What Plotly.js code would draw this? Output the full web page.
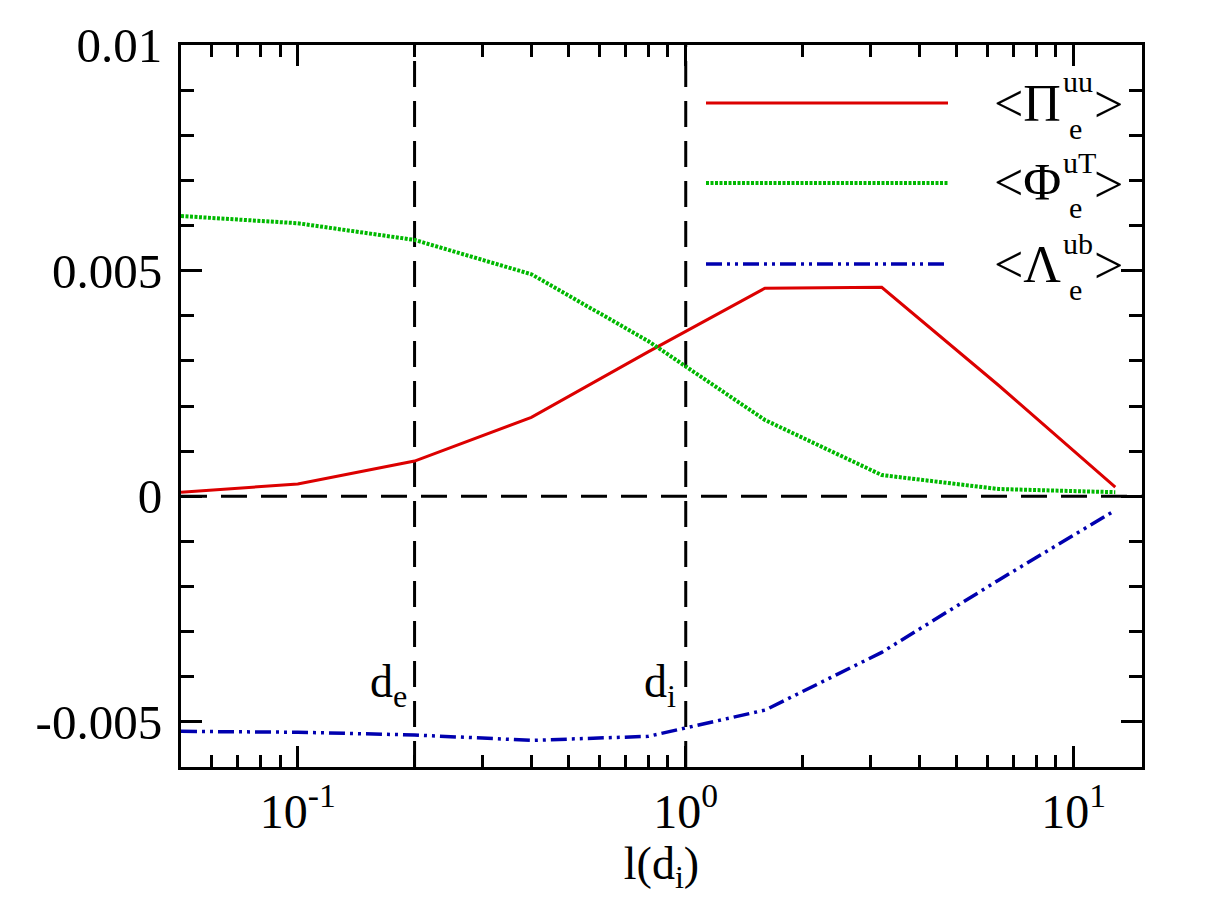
<!DOCTYPE html>
<html><head><meta charset="utf-8">
<script src="https://cdn.plot.ly/plotly-3.0.1.min.js"></script>
<style>body{margin:0;background:#fff}</style>
</head><body>
<div id="chart" style="width:1205px;height:905px"></div>
<script>
const scales = [0.05, 0.1, 0.2, 0.4, 0.8, 1.6, 3.2, 6.4, 12.8];
const piUU   = [0.00009, 0.00027, 0.00078, 0.00175, 0.0032, 0.00461, 0.00463, 0.00246, 0.0002];
const phiUT  = [0.00621, 0.00605, 0.00568, 0.00492, 0.00344, 0.00169, 0.00047, 0.00016, 0.00009];
const lamUB  = [-0.00521, -0.00523, -0.00529, -0.00541, -0.00532, -0.00474, -0.00346, -0.00186, -0.00031];
const xTickVals = [0.1, 1, 10];
const xTickText = ["10<sup>-1</sup>", "10<sup>0</sup>", "10<sup>1</sup>"];
const yTickVals = [-0.005, 0, 0.005, 0.01];
const yTickText = ["-0.005", "0", "0.005", "0.01"];
const refLines = [0.2, 1];
const legendSymbols = ["Π", "Φ", "Λ"];
const legendSups = ["uu", "uT", "ub"];

const RED = "rgb(220,0,0)", GREEN = "rgb(0,185,0)", BLUE = "rgb(0,0,175)";
const F = "Liberation Serif, Times New Roman, serif";
const DOTS = "3px,1.5px", DASHDOTDOT = "16px,5px,3px,5px,3px,5px";

const traces = [
  {x: scales, y: piUU, mode: "lines", line: {color: RED, width: 3}},
  {x: scales, y: phiUT, mode: "lines", line: {color: GREEN, width: 4, dash: DOTS}},
  {x: scales, y: lamUB, mode: "lines", line: {color: BLUE, width: 3.5, dash: DASHDOTDOT}}
];

const shapes = [
  {type: "line", xref: "paper", yref: "y", x0: 0, x1: 1, y0: 0, y1: 0,
   line: {color: "black", width: 3, dash: "26px,14px"}, layer: "below"}
];
refLines.forEach(v => shapes.push({type: "line", xref: "x", yref: "paper", x0: v, x1: v, y0: 0, y1: 1,
   line: {color: "black", width: 3, dash: "26px,14px"}, layer: "below"}));

// legend (paper coordinates derived from pixel positions of the plot frame)
const W = 961, H = 722;
const px = p => (p - 181) / W, py = p => 1 - (p - 45) / H;
const legStyles = [
  {y: 103, color: RED, width: 3, dash: "solid"},
  {y: 183, color: GREEN, width: 4, dash: DOTS},
  {y: 264, color: BLUE, width: 3.5, dash: DASHDOTDOT}
];
const annotations = [];
legStyles.forEach((l, i) => {
  shapes.push({type: "line", xref: "paper", yref: "paper", x0: px(706), x1: px(948), y0: py(l.y), y1: py(l.y),
    line: {color: l.color, width: l.width, dash: l.dash}});
  annotations.push({xref: "paper", yref: "paper", x: px(1062), y: py(l.y), text: "<" + legendSymbols[i],
    showarrow: false, xanchor: "right", yanchor: "middle", borderpad: 0, font: {family: F, size: 52, color: "black"}});
  annotations.push({xref: "paper", yref: "paper", x: px(1062), y: py(l.y - 21), text: legendSups[i],
    showarrow: false, xanchor: "left", yanchor: "middle", borderpad: 0, font: {family: F, size: 30, color: "black"}});
  annotations.push({xref: "paper", yref: "paper", x: px(1075), y: py(l.y + 25), text: "e",
    showarrow: false, xanchor: "center", yanchor: "middle", borderpad: 0, font: {family: F, size: 30, color: "black"}});
  annotations.push({xref: "paper", yref: "paper", x: px(1093), y: py(l.y + 1), text: ">",
    showarrow: false, xanchor: "left", yanchor: "middle", borderpad: 0, font: {family: F, size: 52, color: "black"}});
});
annotations.push({xref: "x", yref: "paper", x: Math.log10(0.2), y: py(685), text: "d<sub>e</sub>",
  showarrow: false, xanchor: "right", xshift: -6, yanchor: "middle", font: {family: F, size: 46, color: "black"}});
annotations.push({xref: "x", yref: "paper", x: Math.log10(1), y: py(685), text: "d<sub>i</sub>",
  showarrow: false, xanchor: "right", xshift: -8, yanchor: "middle", font: {family: F, size: 46, color: "black"}});

const layout = {
  width: 1205, height: 905,
  margin: {l: 181, r: 63, t: 45, b: 138},
  paper_bgcolor: "white", plot_bgcolor: "white",
  showlegend: false,
  font: {family: F, color: "black"},
  xaxis: {
    type: "log", range: [Math.log10(0.05), Math.log10(15)],
    tickvals: xTickVals, ticktext: xTickText,
    ticks: "inside", ticklen: 21, tickwidth: 3, tickcolor: "black",
    minor: {ticks: "inside", ticklen: 12, tickwidth: 3, tickcolor: "black", dtick: "D1"},
    showline: true, linewidth: 3, linecolor: "black", mirror: "allticks",
    showgrid: false, zeroline: false,
    tickfont: {family: F, size: 48, color: "black"},
    title: {text: "l(d<sub>i</sub>)", font: {family: F, size: 46, color: "black"}, standoff: 10}
  },
  yaxis: {
    range: [-0.006, 0.01],
    tickvals: yTickVals, ticktext: yTickText,
    ticks: "inside", ticklen: 21, tickwidth: 3, tickcolor: "black",
    minor: {ticks: "inside", ticklen: 13, tickwidth: 3, tickcolor: "black", dtick: 0.001},
    showline: true, linewidth: 3, linecolor: "black", mirror: "allticks",
    showgrid: false, zeroline: false,
    tickfont: {family: F, size: 49, color: "black"},
    ticklabelstandoff: 6
  },
  shapes: shapes,
  annotations: annotations
};
Plotly.newPlot("chart", traces, layout, {staticPlot: true});
</script>
</body></html>
